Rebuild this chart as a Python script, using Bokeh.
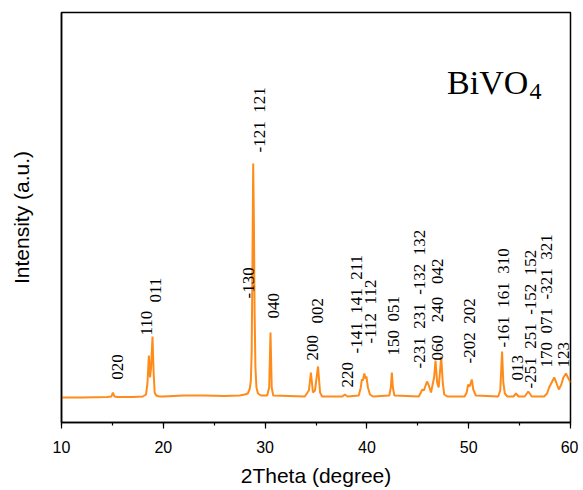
import numpy as np
from bokeh.plotting import figure
from bokeh.models import Label, SingleIntervalTicker, FixedTicker, ColumnDataSource, Title
from bokeh.core.properties import value
from bokeh.embed import file_html
from bokeh.resources import INLINE

# XRD trace (2theta, intensity a.u.)
two_theta = [10.0, 12.0, 14.5, 14.9, 15.05, 15.2, 15.5, 17.0, 18.0, 18.3, 18.45, 18.58, 18.7, 18.8,
             18.94, 19.05, 19.15, 19.3, 19.6, 20.0, 22.0, 24.0, 26.0, 27.5, 28.0, 28.3, 28.5, 28.6,
             28.68, 28.75, 28.83, 28.9, 28.97, 29.05, 29.15, 29.3, 29.6, 30.2, 30.4, 30.53, 30.65,
             30.8, 33.9, 34.3, 34.5, 34.7, 34.9, 35.2, 35.4, 35.6, 37.6, 37.83, 38.1, 39.2, 39.4,
             39.5, 39.6, 39.75, 39.85, 39.95, 40.1, 40.3, 40.6, 42.2, 42.35, 42.45, 42.55, 42.7,
             45.1, 45.3, 45.45, 45.6, 45.9, 46.05, 46.3, 46.6, 46.74, 46.9, 47.05, 47.3, 47.45,
             47.6, 47.9, 49.6, 49.8, 49.95, 50.1, 50.3, 50.45, 50.7, 52.9, 53.1, 53.28, 53.4,
             53.55, 53.8, 54.4, 54.65, 54.9, 55.5, 55.85, 56.2, 57.4, 57.7, 57.9, 58.1, 58.4,
             58.6, 58.85, 59.1, 59.3, 59.55, 59.8, 60.0]
intensity = [25, 25, 25.5, 26, 30, 26, 25.5, 25.5, 26, 28, 40, 67, 45, 55,
             86, 50, 30, 27, 26, 26, 27, 27, 26.5, 27, 28, 29, 34, 42,
             70, 150, 259, 200, 110, 55, 35, 29, 27, 27, 35, 90, 35,
             27, 26, 32, 50, 30, 32, 56, 30, 26, 26, 28, 26, 27, 35,
             43, 42, 49, 44, 46, 35, 28, 26, 27, 35, 50, 35, 27,
             26, 30, 33, 32, 41, 38, 30, 45, 62, 40, 35, 66, 40,
             28, 26, 26, 30, 38, 36, 43, 33, 27, 26, 32, 71, 40,
             29, 26, 26, 29, 26, 26, 31, 26, 26, 29, 35, 39, 45,
             40, 33, 38, 45, 49, 44, 40]

SP = " \u00a0"      # two-space gap that SVG keeps
SP3 = " \u00a0\u00a0"
# Miller index labels: text, 2theta anchor, intensity anchor (start of vertical text)
peak_labels = ["020", "110", "011", "-121" + SP + "121", "-130", "040", "200", "002", "220",
               "-141" + SP + "141" + SP + "211", "-112" + SP + "112", "150" + SP + "051",
               "-231" + SP + "231" + SP + "-132" + SP + "132",
               "060" + SP3 + "240" + SP3 + "042", "-202" + SP + "202",
               "-161" + SP + "161" + SP + "310", "013",
               "-251" + SP + "251" + SP + "-152" + SP + "152",
               "170" + SP + "071" + SP + "-321" + SP + "321", "123"]
label_x = [15.47, 18.35, 19.23, 29.45, 28.34, 30.85, 34.63, 35.18, 38.07,
           38.98, 40.35, 42.58, 45.2, 46.93, 50.08, 53.45, 54.76, 56.07, 57.64, 59.34]
label_y = [42.7, 87, 120, 270, 124, 104, 62, 99, 35,
           69, 79, 67, 54, 62, 59, 75, 42, 34, 55, 55]

p = figure(frame_width=509, frame_height=410, x_range=(10, 60), y_range=(0, 410),
           output_backend="svg", toolbar_location=None,
           min_border_left=61, min_border_right=8, min_border_top=12, min_border_bottom=60)
p.background_fill_color = "white"
p.border_fill_color = "white"
p.grid.visible = False
p.outline_line_color = "black"
p.outline_line_width = 1.5

p.line(two_theta, intensity, line_color="#FF8C1A", line_width=2)

src = ColumnDataSource(dict(x=label_x, y=label_y, t=peak_labels))
p.text(x="x", y="y", text="t", source=src, angle=np.pi / 2, text_align="left",
       text_baseline="middle", text_font=value("Liberation Serif"), text_font_size="17px",
       text_color="black")

p.add_layout(Label(x=47.87, y=340.3, text="BiVO", text_font="Liberation Serif",
                   text_font_size="34px", text_color="black", text_baseline="alphabetic"))
p.add_layout(Label(x=55.97, y=331.3, text="4", text_font="Liberation Serif",
                   text_font_size="24px", text_color="black", text_baseline="alphabetic"))

xa = p.xaxis[0]
xa.ticker = SingleIntervalTicker(interval=10, num_minor_ticks=2)
xa.major_tick_out = 6
xa.major_tick_in = 0
xa.minor_tick_out = 3
xa.minor_tick_in = 0
xa.major_label_text_font = "Liberation Sans"
xa.major_label_text_font_size = "16px"
xa.major_label_text_color = "black"
xa.major_label_standoff = 12
xa.axis_line_width = 1.5
xa.major_tick_line_width = 1.2
xa.minor_tick_line_width = 1.2

p.add_layout(Title(text="2Theta (degree)", align="center", text_font="Liberation Sans",
                   text_font_size="21px", text_font_style="normal", text_color="black",
                   standoff=13), "below")

ya = p.yaxis[0]
ya.ticker = FixedTicker(ticks=[])
ya.major_tick_out = 0
ya.major_tick_in = 0
ya.minor_tick_out = 0
ya.minor_tick_in = 0
ya.major_label_standoff = 0
ya.axis_line_width = 1.5
ya.axis_label = "Intensity (a.u.)"
ya.axis_label_text_font = "Liberation Sans"
ya.axis_label_text_font_size = "21px"
ya.axis_label_text_font_style = "normal"
ya.axis_label_text_color = "black"
ya.axis_label_standoff = 29

open("out.html", "w").write(file_html(p, INLINE))
